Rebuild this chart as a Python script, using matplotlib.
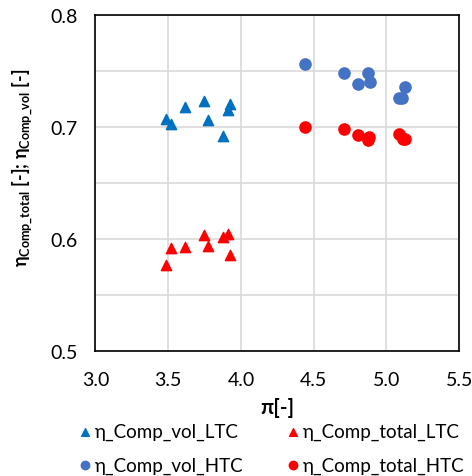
import matplotlib.pyplot as plt

plt.rcParams['font.family'] = ['Lato', 'DejaVu Sans']
plt.rcParams['mathtext.fontset'] = 'custom'
plt.rcParams['mathtext.rm'] = 'Lato:bold'
plt.rcParams['mathtext.it'] = 'Lato:bold'
plt.rcParams['mathtext.bf'] = 'Lato:bold'

# data: pressure ratio pi [-] and efficiencies [-]
pi_ltc = [3.486, 3.52, 3.618, 3.747, 3.774, 3.877, 3.911, 3.922]
eta_vol_ltc = [0.707, 0.703, 0.718, 0.723, 0.7065, 0.692, 0.7155, 0.720]
eta_total_ltc = [0.577, 0.592, 0.593, 0.604, 0.594, 0.602, 0.605, 0.586]

pi_htc_vol = [4.442, 4.710, 4.871, 4.806, 4.885, 5.127, 5.088, 5.107]
eta_vol_htc = [0.756, 0.748, 0.748, 0.7384, 0.740, 0.7355, 0.726, 0.726]
pi_htc_total = [4.442, 4.710, 4.806, 4.882, 4.871, 5.088, 5.115, 5.129]
eta_total_htc = [0.700, 0.6986, 0.693, 0.691, 0.688, 0.694, 0.6896, 0.689]

fig = plt.figure(figsize=(4.72, 4.77), dpi=100)
ax = fig.add_axes([0.202, 0.2614, 0.771, 0.7056])

ax.scatter(pi_ltc, eta_vol_ltc, marker='^', s=55, color='#0070C0', label='η_Comp_vol_LTC', zorder=3)
ax.scatter(pi_htc_vol, eta_vol_htc, marker='o', s=65, color='#4472C4', label='η_Comp_vol_HTC', zorder=3)
ax.scatter(pi_ltc, eta_total_ltc, marker='^', s=55, color='#FF0000', label='η_Comp_total_LTC', zorder=3)
ax.scatter(pi_htc_total, eta_total_htc, marker='o', s=65, color='#FF0000', label='η_Comp_total_HTC', zorder=3)

ax.set_xlim(3.0, 5.5)
ax.set_ylim(0.5, 0.8)
ax.set_xticks([3.0, 3.5, 4.0, 4.5, 5.0, 5.5])
ax.set_yticks([0.5, 0.6, 0.7, 0.8])
ax.set_yticks([0.55, 0.65, 0.75], minor=True)
ax.grid(True, which='both', color='#D9D9D9', linewidth=1.2)
ax.set_axisbelow(True)
ax.tick_params(which='both', length=0, labelsize=14)
ax.tick_params(axis='x', pad=14)
ax.tick_params(axis='y', pad=13)
for sp in ax.spines.values():
    sp.set_color('black')
    sp.set_linewidth(1.2)

ax.set_xlabel('π[-]', fontsize=15, fontweight='bold', labelpad=7)
ax.set_ylabel(r'$η_{Comp\_total}$ [-]; $η_{Comp\_vol}$ [-]', fontsize=13,
              fontweight='bold')
ax.yaxis.set_label_coords(-0.165, 0.548)

handles, labels = ax.get_legend_handles_labels()
fig.legend(handles, labels, loc='upper left', bbox_to_anchor=(0.16, 0.111), ncol=2,
           frameon=False, fontsize=13.5, handletextpad=0.05, columnspacing=2.1,
           labelspacing=0.85, markerscale=0.75, handlelength=1.0,
           borderaxespad=0, borderpad=0)

fig.savefig('out.png', dpi=100)
